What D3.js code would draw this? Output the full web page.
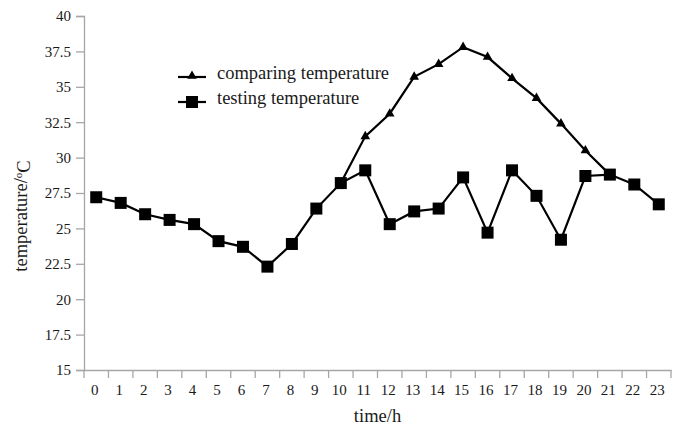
<!DOCTYPE html>
<html>
<head>
<meta charset="utf-8">
<script src="https://cdn.jsdelivr.net/npm/d3@7"></script>
<style>
  body { margin: 0; background: #fff; }
  svg { display: block; font-family: "Liberation Serif", "Times New Roman", serif; }
</style>
</head>
<body>
<svg id="chart" width="679" height="427"></svg>
<script>
// hours 0..23
const hours = d3.range(0, 24);
const yTicks = [15, 17.5, 20, 22.5, 25, 27.5, 30, 32.5, 35, 37.5, 40];

// testing temperature, one per hour
const testing = [27.2, 26.8, 26.0, 25.6, 25.3, 24.1, 23.7, 22.3, 23.9, 26.4, 28.2, 29.1,
                 25.3, 26.2, 26.4, 28.6, 24.7, 29.1, 27.3, 24.2, 28.7, 28.8, 28.1, 26.7];

// comparing temperature, hours 10..21 (ends meet the testing curve)
const compHours = d3.range(10, 22);
const comparing = [28.2, 31.5, 33.1, 35.7, 36.6, 37.8, 37.1, 35.6, 34.2, 32.4, 30.5, 28.8];

const svg = d3.select('#chart');
const M = { left: 84, right: 671, top: 16, bottom: 370 };
const axisColor = '#a6a6a6';
const textColor = '#1a1a1a';
const serif = '"Liberation Serif", "Times New Roman", serif';

const x = d3.scaleBand().domain(hours).range([M.left, M.right]);
const y = d3.scaleLinear().domain([15, 40]).range([M.bottom, M.top]);
const cx = h => x(h) + x.bandwidth() / 2;

// y axis
const gy = svg.append('g')
  .attr('transform', `translate(${M.left},0)`)
  .call(d3.axisLeft(y).tickValues(yTicks).tickSize(8).tickPadding(5).tickFormat(d3.format('')))
  .attr('font-family', serif).attr('font-size', 15);
gy.select('.domain').attr('stroke', axisColor).attr('stroke-width', 1.3);
gy.selectAll('.tick line').attr('stroke', axisColor).attr('stroke-width', 1.3);
gy.selectAll('.tick text').attr('fill', textColor);

// x axis
const gx = svg.append('g')
  .attr('transform', `translate(0,${M.bottom})`)
  .call(d3.axisBottom(x).tickSize(0).tickPadding(14))
  .attr('font-family', serif).attr('font-size', 15);
gx.select('.domain').attr('stroke', axisColor).attr('stroke-width', 1.3);
gx.selectAll('.tick text').attr('fill', textColor).attr('dx', '-0.1em');
// tick marks at band edges
gx.selectAll('.edge')
  .data(hours.concat([24]))
  .join('line')
  .attr('x1', d => d < 24 ? x(d) : M.right)
  .attr('x2', d => d < 24 ? x(d) : M.right)
  .attr('y1', 0).attr('y2', 8)
  .attr('stroke', axisColor).attr('stroke-width', 1.3);

// axis titles
svg.append('text')
  .attr('x', (M.left + M.right) / 2).attr('y', 422)
  .attr('text-anchor', 'middle')
  .attr('fill', textColor).style('font-size', '18.5px')
  .text('time/h');

const yl = svg.append('text')
  .attr('transform', 'translate(27,216) rotate(-90)')
  .attr('text-anchor', 'middle')
  .attr('fill', textColor).style('font-size', '18.5px');
yl.append('tspan').text('temperature/');
yl.append('tspan').attr('dy', '-0.45em').style('font-size', '11px').text('o');
yl.append('tspan').attr('dy', '0.45em').text('C');

// lines
const line = d3.line().x(d => cx(d[0])).y(d => y(d[1]));
const compData = compHours.map((h, i) => [h, comparing[i]]);
const testData = hours.map((h, i) => [h, testing[i]]);

svg.append('path').datum(compData)
  .attr('d', line).attr('fill', 'none')
  .attr('stroke', '#000').attr('stroke-width', 2.2);
svg.append('path').datum(testData)
  .attr('d', line).attr('fill', 'none')
  .attr('stroke', '#000').attr('stroke-width', 2.2);

const tri = d3.symbol().type(d3.symbolTriangle).size(40);
svg.selectAll('.tri')
  .data(compData.slice(1, -1))
  .join('path')
  .attr('transform', d => `translate(${cx(d[0])},${y(d[1])})`)
  .attr('d', tri).attr('fill', '#000');

const sq = 12;
svg.selectAll('.sq')
  .data(testData)
  .join('rect')
  .attr('x', d => cx(d[0]) - sq / 2).attr('y', d => y(d[1]) - sq / 2)
  .attr('width', sq).attr('height', sq).attr('fill', '#000');

// legend
const legend = [
  { label: 'comparing temperature', mark: 'tri', y: 77 },
  { label: 'testing temperature', mark: 'sq', y: 102 }
];
legend.forEach(l => {
  svg.append('line')
    .attr('x1', 178).attr('x2', 206).attr('y1', l.y).attr('y2', l.y)
    .attr('stroke', '#000').attr('stroke-width', 2.2);
  if (l.mark === 'tri') {
    svg.append('path').attr('d', tri).attr('fill', '#000')
      .attr('transform', `translate(192,${l.y - 1})`);
  } else {
    svg.append('rect').attr('x', 192 - sq / 2).attr('y', l.y - sq / 2)
      .attr('width', sq).attr('height', sq).attr('fill', '#000');
  }
  svg.append('text')
    .attr('x', 217).attr('y', l.y + 2)
    .attr('fill', textColor).style('font-size', '18.5px')
    .text(l.label);
});
</script>
</body>
</html>
